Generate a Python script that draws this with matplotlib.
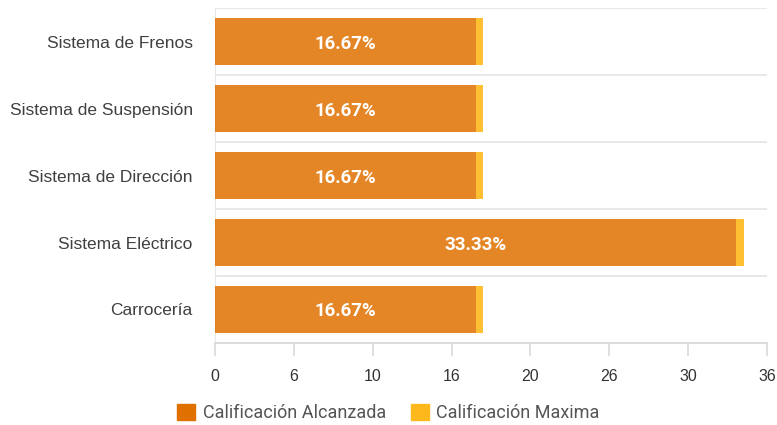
import numpy as np
import matplotlib.pyplot as plt
from matplotlib.patches import Patch

categorias = ["Sistema de Frenos", "Sistema de Suspensión", "Sistema de Dirección",
              "Sistema Eléctrico", "Carrocería"]
alcanzada = [16.67, 16.67, 16.67, 33.33, 16.67]
maxima_extra = [0.5, 0.5, 0.5, 0.5, 0.5]
etiquetas_x = ["0", "6", "10", "16", "20", "26", "30", "36"]
x_max = 35.3

c_alc = "#E07000"
c_max = "#FFB81C"

fig = plt.figure(figsize=(7.77, 4.25), dpi=100)
ax = fig.add_axes([0.2767, 0.193, 0.7104, 0.788])

y = np.arange(len(categorias))
ax.barh(y, alcanzada, height=0.69, color=c_alc, alpha=0.85, zorder=3)
ax.barh(y, maxima_extra, left=alcanzada, height=0.69, color=c_max, alpha=0.9, zorder=3)

# etiquetas de porcentaje
for i, v in enumerate(alcanzada):
    ax.text(v / 2, i + 0.03, "%.2f%%" % v, color="white", fontweight="bold",
            fontsize=13.5, ha="center", va="center", family="Roboto", zorder=4)

ax.set_ylim(len(categorias) - 0.5, -0.5)
ax.set_xlim(0, x_max)
ax.set_yticks(y)
ax.set_yticklabels(categorias, fontsize=12.5, color="#404040", family="Liberation Sans")
ax.tick_params(axis="y", length=0, pad=16)

ax.set_xticks(np.linspace(0, x_max, len(etiquetas_x)))
ax.set_xticklabels(etiquetas_x, fontsize=11.5, color="#333333", family="Liberation Sans")
ax.tick_params(axis="x", length=9, color="#d9d9d9", width=1.2, pad=10)

# lineas horizontales entre categorias
for b in np.arange(-0.5, len(categorias), 1.0):
    ax.axhline(b, color="#e6e6e6", lw=1.3, zorder=1)

for s in ["top", "right"]:
    ax.spines[s].set_visible(False)
ax.spines["left"].set_color("#e6e6e6")
ax.spines["bottom"].set_color("#d9d9d9")
ax.spines["bottom"].set_linewidth(1.3)

handles = [Patch(color=c_alc), Patch(color=c_max)]
fig.legend(handles, ["Calificación Alcanzada", "Calificación Maxima"], loc="center",
           bbox_to_anchor=(0.5, 0.028), ncol=2, frameon=False, handlelength=1.0,
           handleheight=1.0, handletextpad=0.4, columnspacing=1.4,
           prop={"family": "Roboto", "size": 13}, labelcolor="#555555")

fig.savefig("out.png", dpi=100)
